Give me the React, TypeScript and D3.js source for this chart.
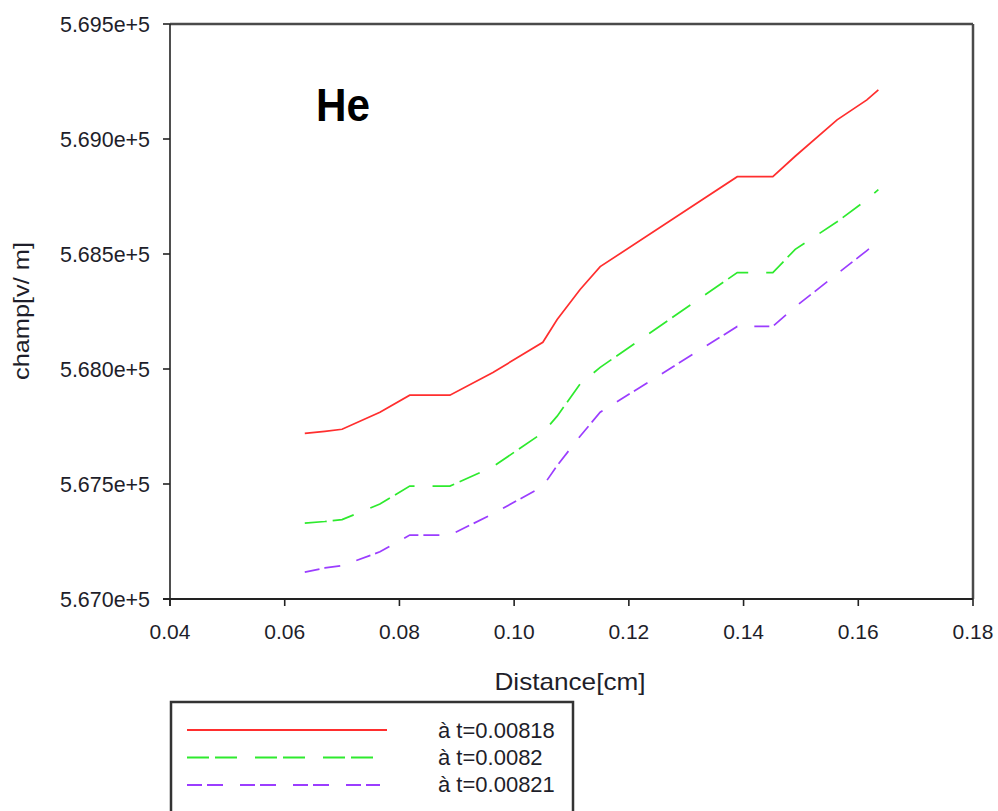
import React from 'react';
import * as d3 from 'd3';

const distance = [0.0635, 0.067, 0.07, 0.0766, 0.0818, 0.0888, 0.0963, 0.105, 0.1075, 0.1115, 0.115, 0.127, 0.1389, 0.1451, 0.149, 0.1563, 0.1615, 0.1635];
const champT00818 = [567720, 567729, 567738, 567812, 567886, 567886, 567985, 568116, 568215, 568346, 568445, 568641, 568836, 568836, 568925, 569083, 569170, 569214];
const champT0082 = [567330, 567337, 567345, 567413, 567491, 567491, 567575, 567723, 567795, 567935, 568007, 568214, 568419, 568419, 568520, 568640, 568736, 568780];
const champT00821 = [567117, 567135, 567145, 567205, 567278, 567278, 567370, 567490, 567580, 567708, 567812, 567999, 568185, 568185, 568270, 568413, 568515, 568554];
const seriesLabels = ['à t=0.00818', 'à t=0.0082', 'à t=0.00821'];
const xTicks = [0.04, 0.06, 0.08, 0.1, 0.12, 0.14, 0.16, 0.18];
const yTicks = [567000, 567500, 568000, 568500, 569000, 569500];

const colors = ['#ff2e2e', '#2eea2e', '#9b3dff'];
const dashes = ['none', '22 6 22 18', '15 5 16 17'];

export default function App() {
  const W = 998, H = 811;
  const x = d3.scaleLinear().domain([0.04, 0.18]).range([170, 973]);
  const y = d3.scaleLinear().domain([567000, 569500]).range([599, 24]);
  const series = [champT00818, champT0082, champT00821];
  const line = d3.line<number>().x((_, i) => x(distance[i])).y(d => y(d));
  const font = '"Liberation Sans", Arial, sans-serif';
  const txt = '#1e1e2a';
  return (
    <svg width={W} height={H} style={{ position: 'absolute', left: 0, top: 0, background: '#fff' }} fontFamily={font}>
      <rect x={0} y={0} width={W} height={H} fill="#fff" />
      <line x1={170} x2={973} y1={24} y2={24} stroke="#4a4a4a" strokeWidth={2.5} />
      <line x1={973} x2={973} y1={24} y2={599} stroke="#4a4a4a" strokeWidth={2.5} />
      <line x1={170} x2={170} y1={24} y2={606} stroke="#222" strokeWidth={1.6} />
      <line x1={163} x2={973} y1={599} y2={599} stroke="#222" strokeWidth={1.8} />
      {yTicks.map(t => (
        <g key={'y' + t}>
          <line x1={163} x2={170} y1={y(t)} y2={y(t)} stroke="#222" strokeWidth={1.6} />
          <text x={150} y={y(t)} dy="0.36em" textAnchor="end" fontSize={21.5} fill={txt} textLength={90} lengthAdjust="spacingAndGlyphs">{(t / 1e5).toFixed(3) + 'e+5'}</text>
        </g>
      ))}
      {xTicks.map(t => (
        <g key={'x' + t}>
          <line x1={x(t)} x2={x(t)} y1={599} y2={606} stroke="#222" strokeWidth={1.6} />
          <text x={x(t)} y={639} textAnchor="middle" fontSize={21} fill={txt}>{t.toFixed(2)}</text>
        </g>
      ))}
      {series.map((s, i) => (
        <path key={'s' + i} d={line(s) || ''} fill="none" stroke={colors[i]} strokeWidth={1.7}
          strokeDasharray={dashes[i] === 'none' ? undefined : dashes[i]} />
      ))}
      <text x={316} y={121} fontSize={46} fontWeight="bold" fill="#000" textLength={54} lengthAdjust="spacingAndGlyphs">He</text>
      <text x={570} y={690} textAnchor="middle" fontSize={24} fill={txt} textLength={151} lengthAdjust="spacingAndGlyphs">Distance[cm]</text>
      <text transform="translate(29,311) rotate(-90)" textAnchor="middle" fontSize={22} fill={txt} textLength={138} lengthAdjust="spacingAndGlyphs">champ[v/ m]</text>
      <rect x={171} y={702} width={402} height={200} fill="#fff" stroke="#333" strokeWidth={2.5} />
      {seriesLabels.map((l, i) => (
        <g key={'l' + i}>
          <line x1={187} x2={[387, 373, 380][i]} y1={730 + i * 27.5} y2={730 + i * 27.5} stroke={colors[i]} strokeWidth={1.8}
            strokeDasharray={dashes[i] === 'none' ? undefined : dashes[i]} />
          <text x={438} y={738 + i * 27} fontSize={22} fill={txt}>{l}</text>
        </g>
      ))}
    </svg>
  );
}
